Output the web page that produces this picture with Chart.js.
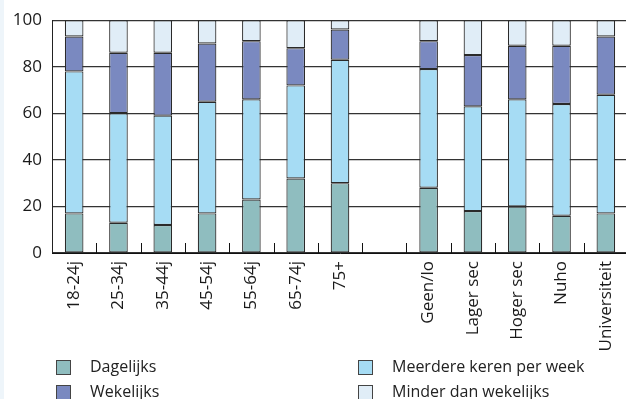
<!DOCTYPE html>
<html>
<head>
<meta charset="utf-8">
<script src="https://cdn.jsdelivr.net/npm/chart.js@4/dist/chart.umd.min.js"></script>
<style>
  html, body { margin: 0; padding: 0; background: #fff; overflow: hidden; }
  #wrap { position: relative; width: 628px; height: 399px; }
  #strip { position: absolute; left: 0; top: 0; width: 4px; height: 399px; background: #eef5fa; }
  .leg { position: absolute; font-family: "Open Sans", sans-serif; font-size: 16px; color: #222; line-height: 20px; }
  .leg span.box { position: absolute; left: 0; top: 3px; width: 13px; height: 13px; border: 1px solid #444; }
  .leg span.txt { position: absolute; left: 34px; top: -1px; white-space: nowrap; }
</style>
</head>
<body>
<div id="wrap">
  <canvas id="chart" width="628" height="399"></canvas>
  <div id="strip"></div>
  <div id="legend"></div>
</div>
<script>
const categories = ['18-24j', '25-34j', '35-44j', '45-54j', '55-64j', '65-74j', '75+', '',
  'Geen/lo', 'Lager sec', 'Hoger sec', 'Nuho', 'Universiteit'];
const dagelijks = [17, 13, 12, 17, 23, 32, 30, null, 28, 18, 20, 16, 17];
const meerdere  = [61, 47, 47, 48, 43, 40, 53, null, 51, 45, 46, 48, 51];
const wekelijks = [15, 26, 27, 25, 25, 16, 13, null, 12, 22, 23, 25, 25];
const minder    = [7, 14, 14, 10, 9, 12, 4, null, 9, 15, 11, 11, 7];
const yTicks = [0, 20, 40, 60, 80, 100];

const seriesNames = ['Dagelijks', 'Meerdere keren per week', 'Wekelijks', 'Minder dan wekelijks'];
const colors = ['#8fbdbf', '#a6dcf4', '#7a89c0', '#e0edf7'];

// inner tick marks at the category boundaries
const innerTicks = {
  id: 'innerTicks',
  afterDatasetsDraw(chart) {
    const x = chart.scales.x, ctx = chart.ctx, bottom = chart.chartArea.bottom;
    ctx.save();
    ctx.strokeStyle = '#111';
    ctx.lineWidth = 1;
    for (let i = 0; i < categories.length - 1; i++) {
      const px = Math.round((x.getPixelForValue(i) + x.getPixelForValue(i + 1)) / 2) + 0.5;
      ctx.beginPath();
      ctx.moveTo(px, bottom);
      ctx.lineTo(px, bottom - 10);
      ctx.stroke();
    }
    ctx.restore();
  }
};

const data = [dagelijks, meerdere, wekelijks, minder];

new Chart(document.getElementById('chart'), {
  type: 'bar',
  data: {
    labels: categories,
    datasets: data.map((d, i) => ({
      label: seriesNames[i],
      data: d,
      backgroundColor: colors[i],
      borderColor: '#2a2a2a',
      borderWidth: 1.2,
      borderSkipped: false,
      barPercentage: 0.42,
      categoryPercentage: 1
    }))
  },
  options: {
    responsive: false,
    animation: false,
    layout: { padding: { top: 20, left: 0, right: 0, bottom: 0 } },
    plugins: { legend: { display: false }, tooltip: { enabled: false } },
    scales: {
      x: {
        stacked: true,
        grid: { display: false, drawTicks: false },
        border: { color: '#111', width: 1 },
        ticks: {
          maxRotation: 90, minRotation: 90, autoSkip: false,
          padding: 8,
          color: '#1a1a1a',
          font: { family: 'Open Sans', size: 17 }
        },
        afterFit(scale) {
          scale.height = 146;
          scale.paddingLeft = 0;
          scale.paddingRight = 0;
        }
      },
      y: {
        stacked: true,
        min: 0, max: 100,
        afterBuildTicks(scale) { scale.ticks = yTicks.map(v => ({ value: v })); },
        grid: { color: '#333', drawTicks: false, lineWidth: 1.2 },
        border: { color: '#222', width: 1 },
        ticks: {
          padding: 10,
          color: '#1a1a1a',
          font: { family: 'Open Sans', size: 17 }
        },
        afterFit(scale) { scale.width = 52; }
      }
    }
  },
  plugins: [innerTicks]
});

// legend in two columns
const legendPos = [[56, 357], [358, 357], [56, 382], [358, 382]];
const legendOrder = [0, 1, 2, 3];
const legend = document.getElementById('legend');
legendOrder.forEach((s, k) => {
  const el = document.createElement('div');
  el.className = 'leg';
  el.style.left = legendPos[k][0] + 'px';
  el.style.top = legendPos[k][1] + 'px';
  el.innerHTML = '<span class="box" style="background:' + colors[s] + '"></span><span class="txt">' + seriesNames[s] + '</span>';
  legend.appendChild(el);
});
</script>
</body>
</html>
